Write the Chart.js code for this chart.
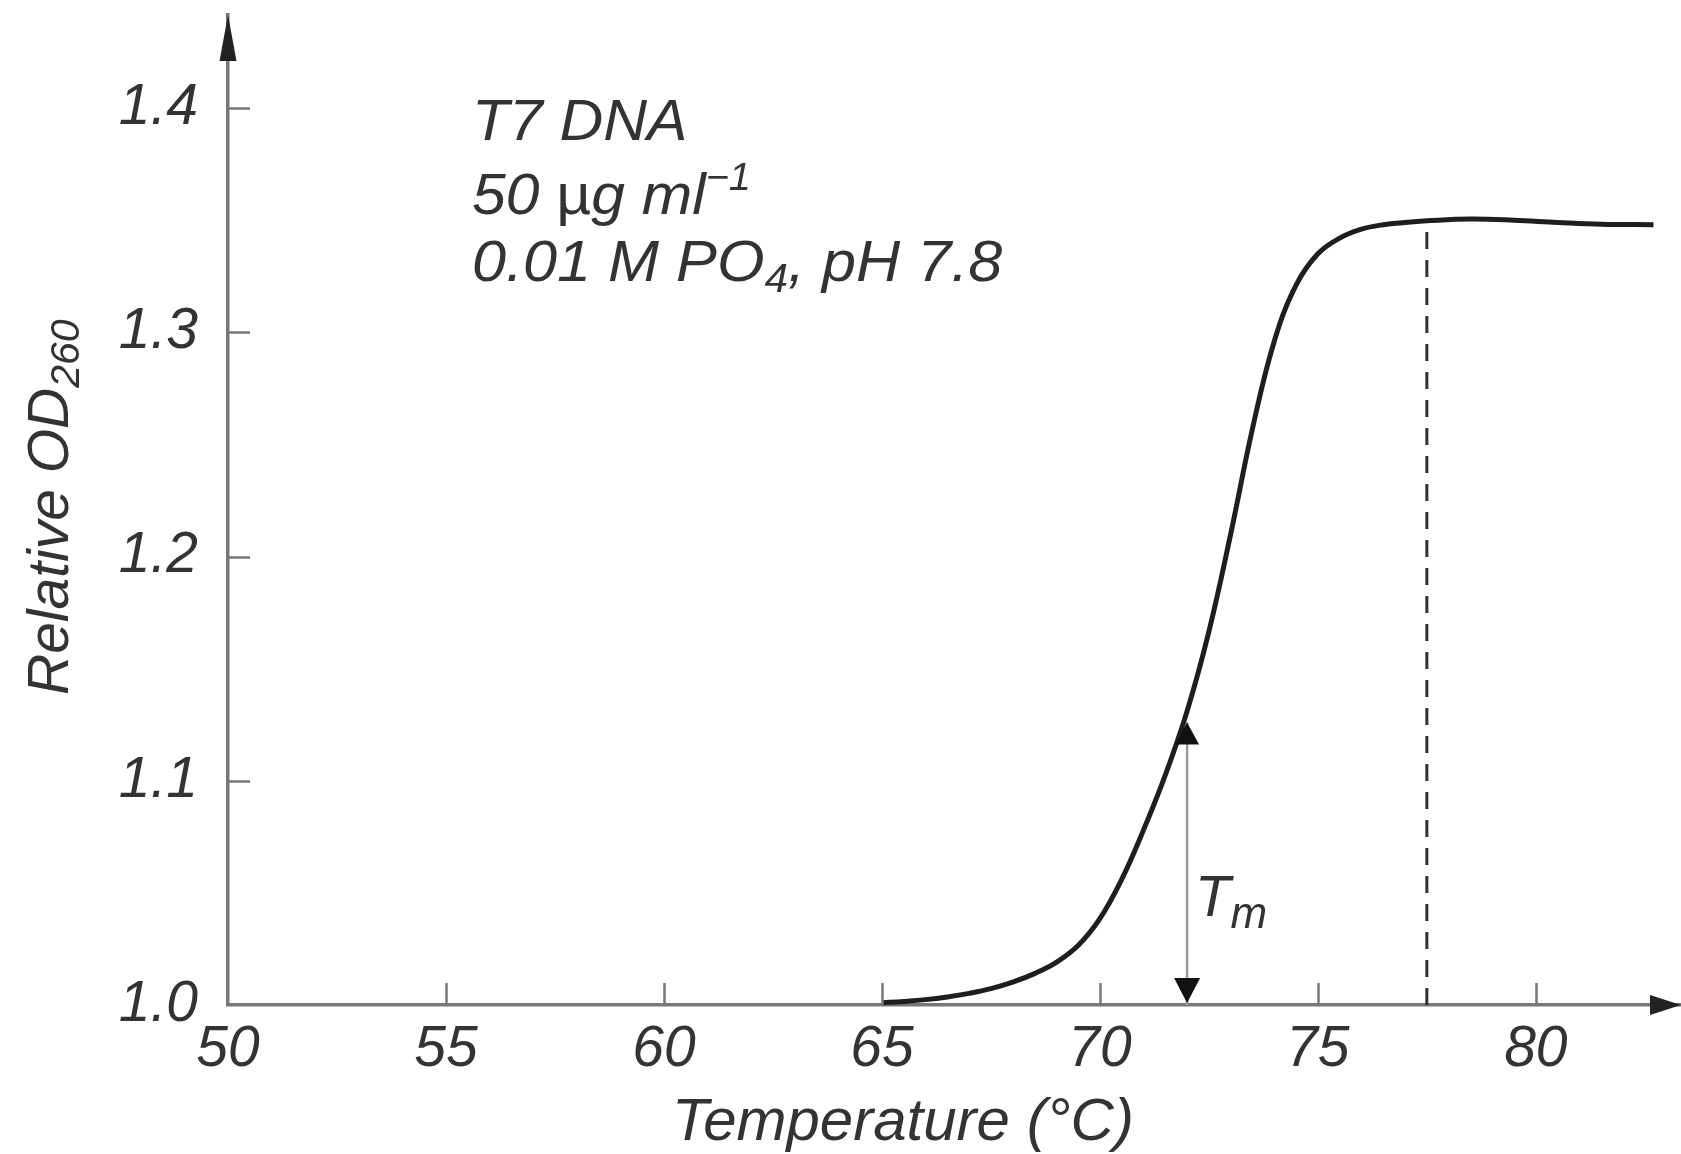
<!DOCTYPE html>
<html>
<head>
<meta charset="utf-8">
<title>T7 DNA melting curve</title>
<script src="https://cdn.jsdelivr.net/npm/chart.js@4.4.1/dist/chart.umd.min.js"></script>
<style>
  html, body { margin: 0; padding: 0; background: #fff; }
  canvas { display: block; }
</style>
</head>
<body>
<canvas id="melting" width="1681" height="1154"></canvas>
<script>
// Melting curve (temperature in °C, relative OD260)
const temperatures = [65, 65.5, 66, 66.5, 67, 67.5, 68, 68.5, 69, 69.5, 70, 70.5, 71, 71.5, 72, 72.5, 73, 73.5, 74, 74.5, 75, 75.5, 76, 76.5, 77, 77.5, 78.5, 79.5, 80.5, 81.5, 82.7];
const relativeOD = [1.0010, 1.0016, 1.0024, 1.0036, 1.0052, 1.0073, 1.0102, 1.0140, 1.0190, 1.0265, 1.0385, 1.0560, 1.0780, 1.1025, 1.1310, 1.1665, 1.2100, 1.2570, 1.2960, 1.3210, 1.3350, 1.3420, 1.3460, 1.3480, 1.3490, 1.3497, 1.3505, 1.3500, 1.3490, 1.3482, 1.3480];

const xTicks = [50, 55, 60, 65, 70, 75, 80];
const yTicks = [1.0, 1.1, 1.2, 1.3, 1.4];
const xMin = 50;
const xMax = 83.33;
const yMin = 1.0;
const yMax = 1.4415;

// Tm arrow and the dashed marker at the end of the transition
const tmArrowX = 72;
const tmArrowTop = 1.126;
const plateauX = 77.5;
const plateauOD = 1.35;

const FONT = '"Liberation Sans", Arial, sans-serif';
const AXIS_GREY = "#777777";
const INK = "#333333";

function font(size, italic) {
  return (italic === false ? "" : "italic ") + size + "px " + FONT;
}

// draws a sequence of text runs (each with its own size / baseline shift),
// optionally stretched horizontally by sx
function drawRuns(ctx, runs, x, y, sx) {
  ctx.save();
  ctx.translate(x, y);
  ctx.scale(sx || 1, 1);
  let cx = 0;
  runs.forEach((r) => {
    ctx.font = font(r.size, r.italic);
    ctx.fillText(r.text, cx, r.dy || 0);
    cx += ctx.measureText(r.text).width;
  });
  ctx.restore();
}

function triangle(ctx, ax, ay, bx, by, cx, cy) {
  ctx.beginPath();
  ctx.moveTo(ax, ay);
  ctx.lineTo(bx, by);
  ctx.lineTo(cx, cy);
  ctx.closePath();
  ctx.fill();
}

const decorations = {
  id: "decorations",
  afterDraw(chart) {
    const { ctx, chartArea, scales } = chart;
    const xs = scales.x;
    const ys = scales.y;
    const left = chartArea.left;
    const bottom = chartArea.bottom;

    ctx.save();

    // inward tick marks
    ctx.strokeStyle = AXIS_GREY;
    ctx.lineWidth = 2.5;
    ctx.beginPath();
    yTicks.forEach((v) => {
      if (v === yMin) return;
      const py = Math.round(ys.getPixelForValue(v)) + 0.5;
      ctx.moveTo(left, py);
      ctx.lineTo(left + 22, py);
    });
    xTicks.forEach((v) => {
      if (v === xMin) return;
      const px = Math.round(xs.getPixelForValue(v)) + 0.5;
      ctx.moveTo(px, bottom);
      ctx.lineTo(px, bottom - 22);
    });
    ctx.stroke();

    // axis arrowheads
    ctx.fillStyle = "#222222";
    triangle(ctx, left, chartArea.top, left - 8.5, chartArea.top + 46, left + 8.5, chartArea.top + 46);
    triangle(ctx, chartArea.right, bottom, chartArea.right - 31, bottom - 10, chartArea.right - 31, bottom + 10);

    // Tm double arrow heads
    const ax = xs.getPixelForValue(tmArrowX);
    const aBottom = ys.getPixelForValue(yMin) - 2;
    const aTop = ys.getPixelForValue(tmArrowTop);
    ctx.fillStyle = "#111111";
    triangle(ctx, ax, aBottom, ax - 13, aBottom - 25, ax + 13, aBottom - 25);
    triangle(ctx, ax, aTop, ax - 12, aTop + 22, ax + 12, aTop + 22);

    // texts
    ctx.fillStyle = INK;
    ctx.textBaseline = "alphabetic";
    ctx.textAlign = "left";

    drawRuns(ctx, [{ text: "T7 DNA", size: 58 }], 472, 140, 1.045);
    drawRuns(ctx, [
      { text: "50 ", size: 58 },
      { text: "\u00b5", size: 58, italic: false },
      { text: "g ml", size: 58 },
      { text: "\u22121", size: 38, dy: -24 },
    ], 472, 214, 1.045);
    drawRuns(ctx, [
      { text: "0.01 M PO", size: 58 },
      { text: "4", size: 40, dy: 11 },
      { text: ", pH 7.8", size: 58 },
    ], 472, 281, 1.055);

    drawRuns(ctx, [
      { text: "T", size: 58 },
      { text: "m", size: 44, dy: 12 },
    ], ax + 8, 916);

    drawRuns(ctx, [{ text: "Temperature (\u00b0C)", size: 60 }], 672, 1140);

    ctx.save();
    ctx.translate(68, 695);
    ctx.rotate(-Math.PI / 2);
    drawRuns(ctx, [
      { text: "Relative OD", size: 57 },
      { text: "260", size: 41, dy: 11 },
    ], 0, 0);
    ctx.restore();

    ctx.restore();
  },
};

const curveData = temperatures.map((t, i) => ({ x: t, y: relativeOD[i] }));

new Chart(document.getElementById("melting"), {
  type: "line",
  data: {
    datasets: [
      {
        label: "Relative OD260",
        data: curveData,
        borderColor: "#1e1e1e",
        borderWidth: 5,
        pointRadius: 0,
        tension: 0.4,
        fill: false,
        clip: false,
      },
      {
        label: "End of transition",
        data: [{ x: plateauX, y: yMin }, { x: plateauX, y: plateauOD }],
        borderColor: "#333333",
        borderWidth: 3,
        borderDash: [17, 11],
        pointRadius: 0,
        fill: false,
        clip: false,
      },
      {
        label: "Tm",
        data: [{ x: tmArrowX, y: yMin }, { x: tmArrowX, y: tmArrowTop }],
        borderColor: "#999999",
        borderWidth: 2.5,
        pointRadius: 0,
        fill: false,
        clip: false,
      },
    ],
  },
  options: {
    responsive: false,
    devicePixelRatio: 1,
    animation: false,
    layout: { padding: { top: 15, right: 0, bottom: 0, left: 0 } },
    plugins: {
      legend: { display: false },
      tooltip: { enabled: false },
    },
    scales: {
      x: {
        type: "linear",
        position: "bottom",
        min: xMin,
        max: xMax,
        grid: { display: false, drawTicks: false },
        border: { display: true, color: AXIS_GREY, width: 3.5 },
        ticks: {
          color: INK,
          padding: 11,
          font: { family: FONT, size: 57, style: "italic" },
          callback: (v) => String(v),
        },
        afterBuildTicks: (axis) => {
          axis.ticks = xTicks.map((v) => ({ value: v }));
        },
        afterFit: (axis) => {
          axis.height = 149;
          axis.paddingLeft = 0;
          axis.paddingRight = 0;
        },
      },
      y: {
        type: "linear",
        position: "left",
        min: yMin,
        max: yMax,
        grid: { display: false, drawTicks: false },
        border: { display: true, color: AXIS_GREY, width: 3.5 },
        ticks: {
          color: INK,
          padding: 30,
          font: { family: FONT, size: 57, style: "italic" },
          callback: (v) => v.toFixed(1),
        },
        afterBuildTicks: (axis) => {
          axis.ticks = yTicks.map((v) => ({ value: v }));
        },
        afterFit: (axis) => {
          axis.width = 228;
          axis.paddingTop = 0;
          axis.paddingBottom = 0;
        },
      },
    },
  },
  plugins: [decorations],
});
</script>
</body>
</html>
